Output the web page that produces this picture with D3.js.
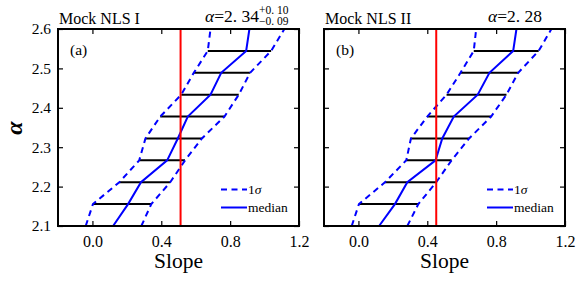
<!DOCTYPE html>
<html><head><meta charset="utf-8">
<script src="https://cdn.jsdelivr.net/npm/d3@7"></script>
<style>body{margin:0;background:#fff}svg{display:block}</style>
</head><body><svg id="c" width="581" height="281" font-family="'Liberation Serif', 'DejaVu Serif', serif"></svg>
<script>
// alpha grid: bin edges/centers
const alphaLevels = [2.1, 2.1556, 2.2111, 2.2667, 2.3222, 2.3778, 2.4333, 2.4889, 2.5444, 2.6];
// Panel (a): Mock NLS I
const lowerA  = [-0.039, 0.003, 0.156, 0.272, 0.308, 0.394, 0.516, 0.589, 0.670, 0.686];
const medianA = [0.120, 0.207, 0.282, 0.434, 0.496, 0.554, 0.686, 0.748, 0.893, 0.912];
const upperA  = [0.284, 0.342, 0.452, 0.538, 0.636, 0.767, 0.850, 0.916, 1.038, 1.115];
const slopeA = 0.512;
// Panel (b): Mock NLS II
const lowerB  = [-0.039, 0.003, 0.154, 0.278, 0.305, 0.400, 0.512, 0.593, 0.670, 0.684];
const medianB = [0.120, 0.212, 0.284, 0.448, 0.487, 0.554, 0.693, 0.761, 0.899, 0.918];
const upperB  = [0.284, 0.348, 0.452, 0.541, 0.643, 0.771, 0.860, 0.928, 1.047, 1.121];
const slopeB = 0.452;
const xTicks = [0.0, 0.4, 0.8, 1.2];
const yTicks = [2.1, 2.2, 2.3, 2.4, 2.5, 2.6];
const titles = ["Mock NLS I", "Mock NLS II"];
const panelLabels = ["(a)", "(b)"];
const legendLabels = ["1σ", "median"];

const FONT = "'Liberation Serif', 'DejaVu Serif', serif";
const svg = d3.select("#c");
const plotTop = 29, plotBottom = 226;
const panels = [
  {x0: 58, x1: 299, lower: lowerA, median: medianA, upper: upperA, slope: slopeA, title: titles[0], label: panelLabels[0]},
  {x0: 324, x1: 565, lower: lowerB, median: medianB, upper: upperB, slope: slopeB, title: titles[1], label: panelLabels[1]}
];
const y = d3.scaleLinear().domain([2.1, 2.6]).range([plotBottom, plotTop]);

panels.forEach((p, i) => {
  const x = d3.scaleLinear().domain([-0.2, 1.2]).range([p.x0, p.x1]);
  const g = svg.append("g");
  const fmt = d3.format(".1f");
  const xb = g.append("g").attr("transform", `translate(0,${plotBottom})`)
    .call(d3.axisBottom(x).tickValues(xTicks).tickSizeInner(-5).tickSizeOuter(0).tickFormat(fmt));
  xb.selectAll("text").attr("dy", null).attr("y", 21).style("font-size", "16px");
  g.append("g").attr("transform", `translate(0,${plotTop})`)
    .call(d3.axisTop(x).tickValues(xTicks).tickSizeInner(-5).tickSizeOuter(0).tickFormat(""));
  const yl = g.append("g").attr("transform", `translate(${p.x0},0)`)
    .call(d3.axisLeft(y).tickValues(yTicks).tickSizeInner(-5).tickSizeOuter(0).tickFormat(i === 0 ? fmt : ""));
  yl.selectAll("text").attr("x", -7).style("font-size", "15.5px");
  g.append("g").attr("transform", `translate(${p.x1},0)`)
    .call(d3.axisRight(y).tickValues(yTicks).tickSizeInner(-5).tickSizeOuter(0).tickFormat(""));
  g.selectAll(".domain").remove();
  g.selectAll("g").attr("font-family", FONT);
  g.selectAll(".tick line").attr("stroke", "#000").attr("stroke-width", 1.2);
  g.selectAll(".tick text").attr("fill", "#000");

  const idx = d3.range(1, alphaLevels.length - 1);
  g.selectAll(".bar").data(idx).join("line")
    .attr("x1", k => x(p.lower[k])).attr("x2", k => x(p.upper[k]))
    .attr("y1", k => y(alphaLevels[k])).attr("y2", k => y(alphaLevels[k]))
    .attr("stroke", "#000").attr("stroke-width", 2);
  const line = arr => d3.line().x(k => x(arr[k])).y(k => y(alphaLevels[k]))(d3.range(alphaLevels.length));
  g.append("path").attr("d", line(p.lower)).attr("fill", "none").attr("stroke", "#0000ff").attr("stroke-width", 2).attr("stroke-dasharray", "6,4.5");
  g.append("path").attr("d", line(p.upper)).attr("fill", "none").attr("stroke", "#0000ff").attr("stroke-width", 2).attr("stroke-dasharray", "6,4.5");
  g.append("path").attr("d", line(p.median)).attr("fill", "none").attr("stroke", "#0000ff").attr("stroke-width", 2);
  g.append("line").attr("x1", x(p.slope)).attr("x2", x(p.slope)).attr("y1", plotTop).attr("y2", plotBottom)
    .attr("stroke", "#ff0000").attr("stroke-width", 2);
  g.append("rect").attr("x", p.x0).attr("y", plotTop).attr("width", p.x1 - p.x0).attr("height", plotBottom - plotTop)
    .attr("fill", "none").attr("stroke", "#000").attr("stroke-width", 2);

  const lx = p.x1 - 78;
  g.append("line").attr("x1", lx).attr("x2", lx + 26).attr("y1", 189.5).attr("y2", 189.5)
    .attr("stroke", "#0000ff").attr("stroke-width", 2).attr("stroke-dasharray", "6,4.5");
  g.append("line").attr("x1", lx).attr("x2", lx + 26).attr("y1", 207.5).attr("y2", 207.5)
    .attr("stroke", "#0000ff").attr("stroke-width", 2);
  const t1 = g.append("text").attr("x", lx + 27).attr("y", 194).style("font-size", "13.5px");
  t1.append("tspan").text("1");
  t1.append("tspan").attr("font-style", "italic").text("σ");
  g.append("text").attr("x", lx + 27).attr("y", 212).style("font-size", "13.5px").text(legendLabels[1]);

  g.append("text").attr("x", p.x0 + 12).attr("y", 55).style("font-size", "15.5px").text(p.label);
  g.append("text").attr("x", p.x0 + 1).attr("y", 24).style("font-size", "16px").text(p.title);

  g.append("text").attr("x", (p.x0 + p.x1) / 2).attr("y", 268).attr("text-anchor", "middle")
    .style("font-size", "21.5px").text("Slope");
});

const ann1 = svg.append("text").attr("x", 259).attr("y", 22).attr("text-anchor", "end").style("font-size", "17.5px");
ann1.append("tspan").attr("font-style", "italic").text("α");
ann1.append("tspan").text("=2. 34");
svg.append("text").attr("x", 259).attr("y", 14).style("font-size", "11.5px").text("+0. 10");
svg.append("text").attr("x", 259).attr("y", 25).style("font-size", "11.5px").text("−0. 09");
const ann2 = svg.append("text").attr("x", 542).attr("y", 22).attr("text-anchor", "end").style("font-size", "17.5px");
ann2.append("tspan").attr("font-style", "italic").text("α");
ann2.append("tspan").text("=2. 28");

svg.append("text").attr("transform", "translate(22,128) rotate(-90)").attr("text-anchor", "middle")
  .style("font-size", "24px").attr("font-style", "italic").attr("font-weight", "bold").text("α");
</script></body></html>
